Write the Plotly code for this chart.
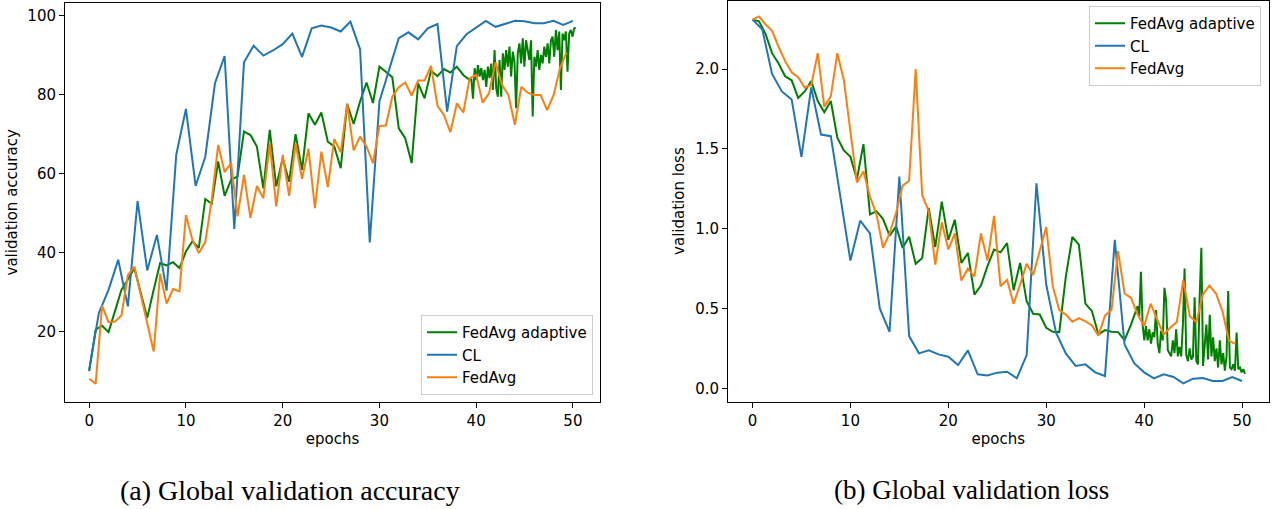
import numpy as np
import plotly.graph_objects as go

# ---------------- data ----------------
cl_epochs = list(range(51))
cl_acc = [10.4, 24.7, 30.6, 38.2, 26.4, 53.1, 35.5, 44.5, 30.4, 64.8,
          76.4, 56.9, 64.3, 82.9, 89.8, 46.0, 88.2, 92.4, 89.9, 91.2,
          92.8, 95.5, 89.6, 96.8, 97.5, 97.0, 96.0, 98.5, 91.5, 42.6,
          78.3, 86.3, 94.3, 95.8, 94.0, 96.8, 97.9, 75.7, 92.3, 95.3,
          97.0, 98.7, 97.2, 97.9, 98.7, 98.6, 98.1, 98.1, 98.7, 97.7, 98.7]
cl_loss = [2.31, 2.25, 1.97, 1.86, 1.81, 1.45, 1.885, 1.59, 1.58, 1.20,
           0.80, 1.05, 0.97, 0.50, 0.354, 1.327, 0.327, 0.219, 0.2375, 0.2125,
           0.198, 0.146, 0.2375, 0.0875, 0.081, 0.098, 0.104, 0.0625, 0.208, 1.285,
           0.65, 0.348, 0.219, 0.14, 0.15, 0.10, 0.077, 0.93, 0.275, 0.156,
           0.10, 0.0625, 0.0875, 0.071, 0.031, 0.06, 0.065, 0.046, 0.046, 0.071, 0.046]

# FedAvg: one point every 2/3 epoch
fedavg_epochs = [i * 2 / 3 for i in range(75)]
fedavg_acc = [8.1, 6.8, 26.6, 22.4, 22.6, 24.1, 34.3, 36.5, 29.3, 22.1,
              15.0, 34.7, 27.1, 30.8, 30.2, 49.5, 43.3, 39.9, 42.7, 53.4,
              67.3, 60.4, 62.7, 49.2, 59.7, 48.8, 56.9, 53.8, 67.6, 51.7,
              64.8, 54.4, 67.7, 58.7, 66.3, 51.3, 65.6, 56.6, 68.8, 65.4,
              77.7, 65.9, 69.4, 66.9, 62.7, 72.1, 72.2, 79.5, 81.9, 83.1,
              79.8, 83.6, 83.6, 87.3, 77.2, 74.9, 70.5, 77.8, 75.5, 84.2,
              85.0, 78.0, 80.4, 88.2, 82.5, 79.9, 72.4, 82.0, 80.5, 79.9,
              79.9, 76.1, 79.9, 86.7, 90.7]
fedavg_loss = [2.31, 2.33, 2.28, 2.24, 2.14, 2.05, 1.98, 1.95, 1.885, 1.90,
               2.10, 1.765, 1.83, 2.10, 1.93, 1.60, 1.29, 1.36, 1.20, 1.09,
               0.88, 0.97, 1.10, 1.27, 1.30, 2.00, 1.21, 1.11, 0.775, 1.04,
               0.87, 0.97, 0.675, 0.75, 0.70, 0.97, 0.80, 1.08, 0.64, 0.68,
               0.53, 0.65, 0.78, 0.71, 0.86, 1.01, 0.64, 0.49, 0.4625, 0.417,
               0.44, 0.42, 0.394, 0.33, 0.456, 0.49, 0.86, 0.594, 0.567, 0.4625,
               0.39, 0.53, 0.43, 0.3375, 0.379, 0.415, 0.677, 0.452, 0.415, 0.5875,
               0.644, 0.594, 0.483, 0.296, 0.279]

# FedAvg adaptive: every 2/3 epoch up to ~39.3, then much denser rounds
adaptive_epochs_sparse = [i * 2 / 3 for i in range(60)]
adaptive_epochs_dense = list(np.linspace(39.5, 50.3, 64))
adaptive_epochs = adaptive_epochs_sparse + adaptive_epochs_dense
adaptive_acc = [10.0, 20.5, 21.5, 19.9, 25.2, 30.6, 33.2, 36.1, 29.8, 23.5,
                30.6, 37.4, 36.8, 37.6, 36.1, 40.3, 42.9, 41.2, 53.6, 52.4,
                63.1, 54.4, 58.5, 59.3, 70.7, 69.8, 66.9, 56.3, 71.1, 56.8,
                63.9, 58.0, 70.0, 61.0, 75.3, 72.4, 75.5, 68.1, 66.9, 61.4,
                77.7, 72.6, 78.3, 83.1, 77.9, 87.1, 85.8, 84.4, 71.5, 69.0,
                62.7, 82.9, 79.1, 86.1, 84.7, 86.5, 85.6, 87.1, 85.0, 83.7,
                # dense part
                84.0, 79.0, 86.7, 83.7, 87.5, 84.6, 86.7, 83.7, 86.3, 82.0,
                87.1, 84.2, 87.9, 81.2, 91.3, 81.6, 79.5, 88.8, 79.5, 90.5,
                86.3, 91.3, 87.1, 92.2, 84.6, 90.9, 88.4, 76.6, 90.5, 93.0,
                87.9, 94.3, 87.1, 93.8, 91.3, 88.8, 93.8, 74.5, 89.6, 87.1,
                91.3, 86.3, 90.1, 87.9, 92.2, 89.6, 93.0, 87.9, 93.8, 94.7,
                89.6, 96.4, 91.3, 96.0, 81.2, 95.5, 93.8, 96.0, 85.8, 95.5,
                96.4, 94.7, 96.8, 97.0]
adaptive_loss = [2.31, 2.30, 2.22, 2.10, 2.035, 1.955, 1.93, 1.82, 1.86, 1.925,
                 1.80, 1.73, 1.80, 1.57, 1.49, 1.45, 1.31, 1.53, 1.09, 1.11,
                 1.06, 0.956, 1.015, 0.88, 0.95, 0.78, 0.817, 1.13, 0.885, 1.17,
                 0.93, 1.056, 0.785, 0.848, 0.5875, 0.644, 0.765, 0.869, 0.852, 0.91,
                 0.615, 0.785, 0.546, 0.467, 0.4625, 0.379, 0.354, 0.352, 0.70, 0.948,
                 0.90, 0.531, 0.483, 0.3375, 0.365, 0.354, 0.352, 0.302, 0.40, 0.515,
                 # dense part
                 0.45, 0.73, 0.40, 0.30, 0.39, 0.30, 0.37, 0.28, 0.35, 0.32,
                 0.49, 0.28, 0.22, 0.36, 0.30, 0.63, 0.55, 0.24, 0.22, 0.20,
                 0.30, 0.22, 0.37, 0.20, 0.26, 0.20, 0.40, 0.75, 0.21, 0.17,
                 0.25, 0.18, 0.20, 0.57, 0.17, 0.15, 0.58, 0.88, 0.14, 0.30,
                 0.40, 0.18, 0.46, 0.20, 0.32, 0.17, 0.25, 0.13, 0.30, 0.15,
                 0.22, 0.11, 0.20, 0.61, 0.13, 0.12, 0.15, 0.11, 0.35, 0.12,
                 0.13, 0.10, 0.12, 0.09]

x_ticks = [0, 10, 20, 30, 40, 50]
acc_ticks = [20, 40, 60, 80, 100]
loss_ticks = [0.0, 0.5, 1.0, 1.5, 2.0]

series_names = ["FedAvg adaptive", "CL", "FedAvg"]
series_colors = ["green", "#1f77b4", "#ff7f0e"]

# ---------------- figure ----------------
W, H = 1280, 509
FONT = "DejaVu Sans"
FS = 15

fig = go.Figure()

left_data = [(adaptive_epochs, adaptive_acc), (cl_epochs, cl_acc), (fedavg_epochs, fedavg_acc)]
right_data = [(adaptive_epochs, adaptive_loss), (cl_epochs, cl_loss), (fedavg_epochs, fedavg_loss)]

for (x, y), name, col in zip(left_data, series_names, series_colors):
    fig.add_trace(go.Scatter(x=x, y=y, mode="lines", name=name,
                             line=dict(color=col, width=2),
                             xaxis="x", yaxis="y", legend="legend"))
for (x, y), name, col in zip(right_data, series_names, series_colors):
    fig.add_trace(go.Scatter(x=x, y=y, mode="lines", name=name,
                             line=dict(color=col, width=2),
                             xaxis="x2", yaxis="y2", legend="legend2"))

def px_x(p):
    return p / W

def px_y(p):
    return 1 - p / H

axis_common = dict(showline=True, linecolor="black", linewidth=1, mirror=True,
                   ticks="outside", ticklen=5, tickwidth=1, tickcolor="black",
                   showgrid=False, zeroline=False, automargin=False,
                   tickfont=dict(family=FONT, size=FS, color="black"))
title_font = dict(family=FONT, size=FS, color="black")
legend_common = dict(bgcolor="rgba(255,255,255,0.8)", bordercolor="#cccccc", borderwidth=1,
                     font=dict(family=FONT, size=FS, color="black"), itemwidth=30,
                     tracegroupgap=0)

fig.update_layout(
    width=W, height=H,
    margin=dict(l=0, r=0, t=0, b=0, autoexpand=False),
    paper_bgcolor="white", plot_bgcolor="white",
    xaxis=dict(domain=[px_x(65), px_x(600)], range=[-2.5, 52.8],
               tickvals=x_ticks, anchor="y",
               title=dict(text="epochs", font=title_font, standoff=4),
               **axis_common),
    yaxis=dict(domain=[px_y(402), px_y(2.7)], range=[2.2, 103.3],
               tickvals=acc_ticks, anchor="x",
               title=dict(text="validation accuracy", font=title_font, standoff=6),
               **axis_common),
    xaxis2=dict(domain=[px_x(728), px_x(1268.5)], range=[-2.5, 52.7],
                tickvals=x_ticks, anchor="y2",
                title=dict(text="epochs", font=title_font, standoff=4),
                **axis_common),
    yaxis2=dict(domain=[px_y(401.7), px_y(0.5)], range=[-0.084, 2.43],
                tickvals=loss_ticks, tickformat=".1f", anchor="x2",
                title=dict(text="validation loss", font=title_font, standoff=6),
                **axis_common),
    legend=dict(x=px_x(593), y=px_y(395), xanchor="right", yanchor="bottom",
                **legend_common),
    legend2=dict(x=px_x(1261), y=px_y(6), xanchor="right", yanchor="top",
                 **legend_common),
    showlegend=True,
)

fig.add_annotation(text="(a) Global validation accuracy", x=px_x(290), y=px_y(490),
                   xref="paper", yref="paper", xanchor="center", yanchor="middle",
                   showarrow=False,
                   font=dict(family="Liberation Serif", size=28, color="black"))
fig.add_annotation(text="(b) Global validation loss", x=px_x(971), y=px_y(490),
                   xref="paper", yref="paper", xanchor="center", yanchor="middle",
                   showarrow=False,
                   font=dict(family="Liberation Serif", size=27, color="black"))

fig.write_html("out.html", config={"displayModeBar": False},
               post_script="document.body.style.margin='0';")
